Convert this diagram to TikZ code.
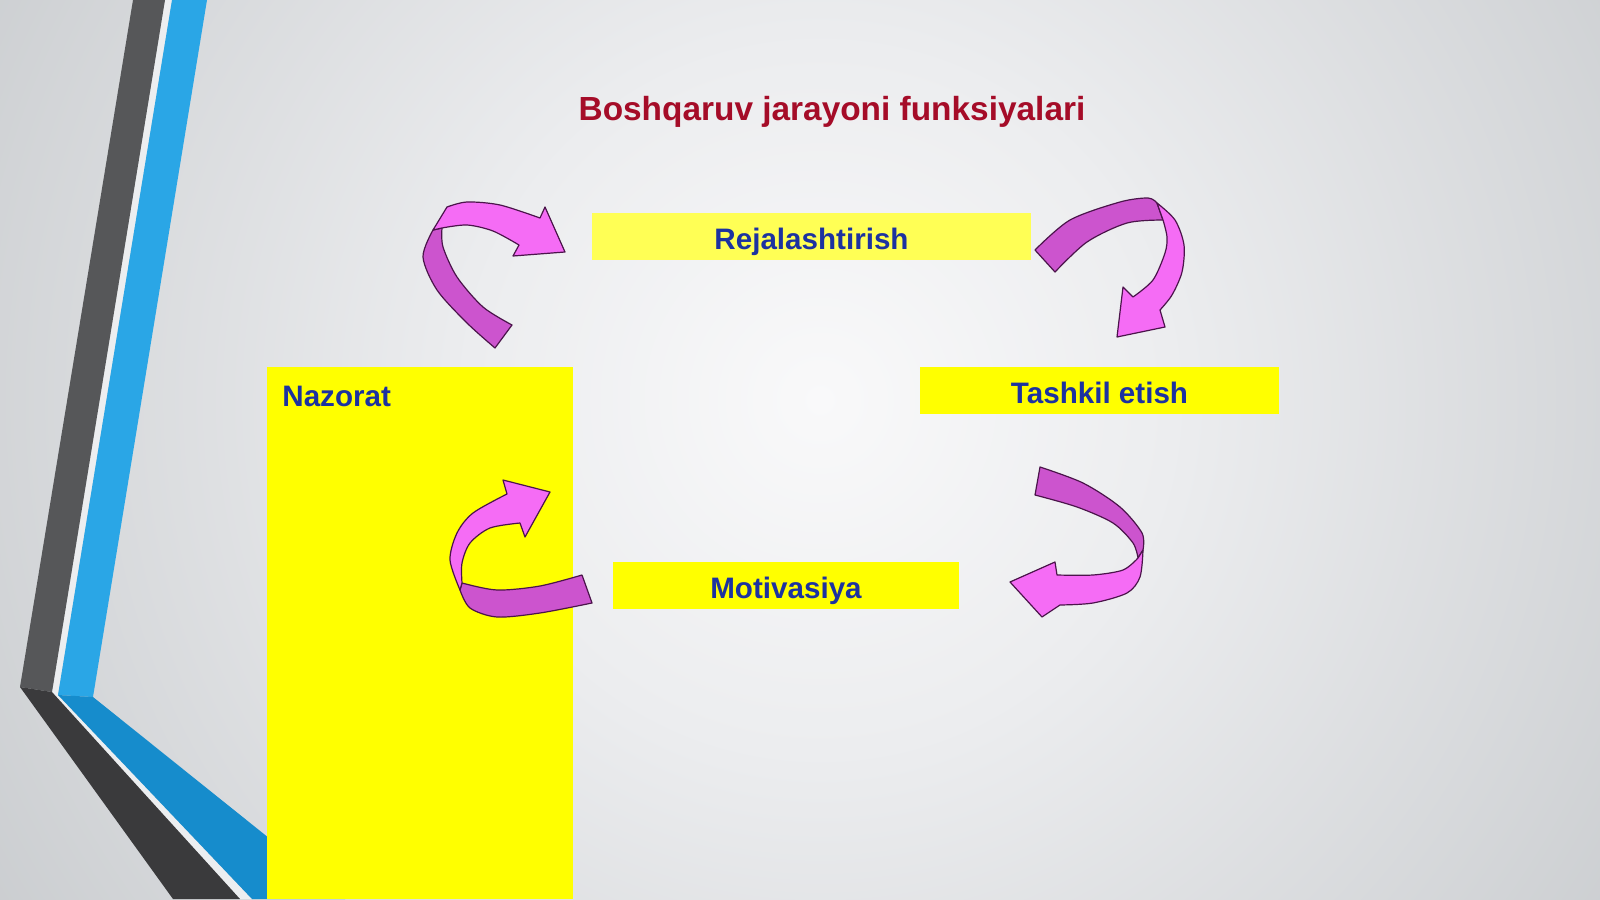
\documentclass[tikz,border=0pt]{standalone}
\usepackage{fontspec}
\setmainfont{Liberation Sans}
\definecolor{bgin}{RGB}{249,249,250}
\definecolor{bgmid}{RGB}{236,237,239}
\definecolor{bgout}{RGB}{196,199,202}
\definecolor{darkv}{RGB}{86,87,89}
\definecolor{darkd}{RGB}{58,58,60}
\definecolor{bluev}{RGB}{42,166,230}
\definecolor{blued}{RGB}{22,140,204}
\definecolor{gapc}{RGB}{236,238,240}
\definecolor{titlered}{RGB}{165,12,40}
\definecolor{labelblue}{RGB}{28,50,160}
\definecolor{boxyellow}{RGB}{255,255,0}
\definecolor{paleyellow}{RGB}{255,255,85}
\definecolor{arrowfront}{RGB}{245,108,245}
\definecolor{arrowback}{RGB}{204,84,206}
\definecolor{arrowline}{RGB}{75,20,75}
\pgfdeclareradialshading{bgrad}{\pgfpoint{0bp}{0bp}}{color(0bp)=(bgin); color(8bp)=(bgmid); color(25bp)=(bgout); color(50bp)=(bgout)}
\tikzset{
  ybox/.style={fill=boxyellow, draw=none, inner sep=0pt,
    font=\fontsize{14.8}{17}\selectfont\bfseries, text=labelblue,
    text height=13pt, text depth=0.5pt},
  lbl/.style={inner sep=0pt, font=\fontsize{14.8}{17}\selectfont\bfseries, text=labelblue},
  afront/.style={fill=arrowfront, draw=arrowline, line width=0.6pt, line join=round},
  aback/.style={fill=arrowback, draw=arrowline, line width=0.6pt, line join=round},
}
\begin{document}
\begin{tikzpicture}[x=0.5pt,y=-0.5pt]
\useasboundingbox (0,0) rectangle (1600,899);
% background
\fill[bgout] (0,0) rectangle (1600,899);
\begin{scope}
  \clip (0,0) rectangle (1600,899);
  \shade[shading=bgrad] (820,400) circle[radius=550pt];
\end{scope}
% left decoration
\fill[gapc] (165,0) -- (52,692) -- (240,899) -- (252,899) -- (58,695) -- (172,0) -- cycle;
\fill[darkv] (133,0) -- (20,687) -- (52,692) -- (165,0) -- cycle;
\fill[darkd] (20,687) -- (173,899) -- (240,899) -- (52,692) -- cycle;
\fill[bluev] (172,0) -- (58,695) -- (93,697) -- (207,0) -- cycle;
\fill[blued] (58,695) -- (252,899) -- (345,899) -- (93,697) -- cycle;
% title
\node[font=\fontsize{16.7}{19}\selectfont\bfseries, text=titlered, anchor=base, inner sep=0pt] (title) at (832,120) {Boshqaruv jarayoni funksiyalari};
% boxes
\node[ybox, fill=paleyellow, minimum width=219.5pt, minimum height=23.5pt] (plan) at (811.5,236.5) {Rejalashtirish};
\node[ybox, minimum width=179.5pt, minimum height=23.5pt] (org) at (1099.5,390.5) {Tashkil etish};
\node[ybox, minimum width=173pt, minimum height=23.5pt] (motiv) at (786,585.5) {Motivasiya};
\node[ybox, minimum width=153pt, minimum height=266pt, anchor=north west] (control) at (267,367) {};
\node[lbl, anchor=base west] (controltext) at (282,406) {Nazorat};
% arrow 1 (top left)
\path[aback] (433,230) -- plot[smooth] coordinates {(433,230) (423,257) (437,290) (467,323) (495,348)} -- (512,325) -- plot[smooth] coordinates {(512,325) (483,307) (457,277) (443,247) (442,228)} -- cycle;
\path[afront] (433,230) -- (447,207) -- plot[smooth] coordinates {(447,207) (467,202) (500,205) (540,218)} -- (545,207) -- (565,252) -- (513,256) -- (519,245) -- plot[smooth] coordinates {(519,245) (493,231) (467,225) (442,228)} -- cycle;
% arrow 2 (top right)
\path[aback] (1035,250) -- plot[smooth] coordinates {(1035,250) (1070,220) (1120,202) (1148,198) (1157,203)} -- (1163,220) -- plot[smooth] coordinates {(1163,220) (1127,223) (1087,242) (1055,272)} -- cycle;
\path[afront] (1157,203) -- plot[smooth] coordinates {(1157,203) (1175,220) (1184,245) (1182,272) (1172,295) (1160,310)} -- (1165,327) -- (1117,337) -- (1123,287) -- (1133,297) -- plot[smooth] coordinates {(1133,297) (1153,280) (1165,253) (1167,237) (1163,220)} -- cycle;
% arrow 3 (bottom left)
\path[aback] (462,583) -- plot[smooth] coordinates {(462,583) (497,590) (540,586) (582,575)} -- (592,603) -- plot[smooth] coordinates {(592,603) (540,613) (497,617) (470,608) (460,590)} -- cycle;
\path[afront] (460,590) -- plot[smooth] coordinates {(460,590) (450,560) (457,533) (473,513) (507,494)} -- (503,480) -- (550,492) -- (525,537) -- (520,523) -- plot[smooth] coordinates {(520,523) (490,528) (470,543) (462,563) (462,583)} -- cycle;
% arrow 4 (bottom right)
\path[aback] (1040,467) -- plot[smooth] coordinates {(1040,467) (1083,483) (1120,507) (1142,533) (1143,550)} -- (1138,558) -- plot[smooth] coordinates {(1138,558) (1133,543) (1113,523) (1077,507) (1035,495)} -- cycle;
\path[afront] (1143,550) -- plot[smooth] coordinates {(1143,550) (1140,577) (1127,593) (1093,603) (1060,605)} -- (1042,617) -- (1010,582) -- (1055,562) -- (1057,575) -- plot[smooth] coordinates {(1057,575) (1093,575) (1123,570) (1138,558)} -- cycle;
\end{tikzpicture}
\end{document}
